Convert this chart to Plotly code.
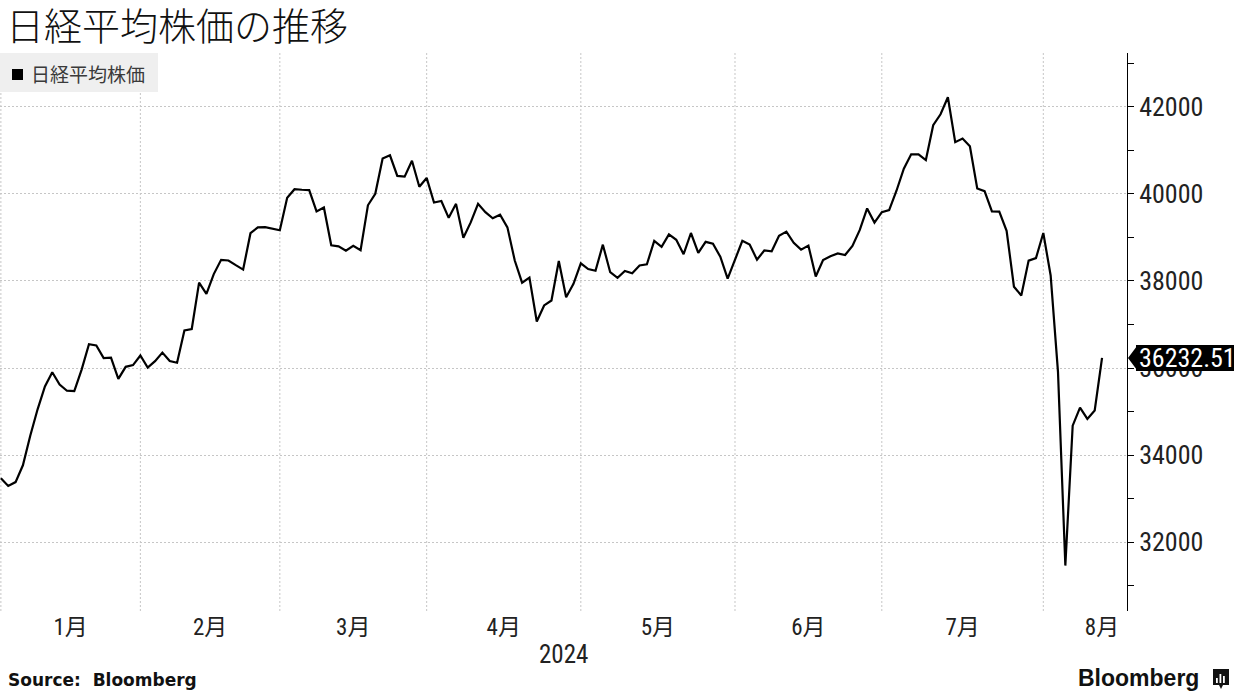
import plotly.graph_objects as go
import pandas as pd

# ---------------- data ----------------
dates = [
    "2023-12-29",
    "2024-01-04", "2024-01-05", "2024-01-09", "2024-01-10", "2024-01-11", "2024-01-12",
    "2024-01-15", "2024-01-16", "2024-01-17", "2024-01-18", "2024-01-19", "2024-01-22",
    "2024-01-23", "2024-01-24", "2024-01-25", "2024-01-26", "2024-01-29", "2024-01-30",
    "2024-01-31",
    "2024-02-01", "2024-02-02", "2024-02-05", "2024-02-06", "2024-02-07", "2024-02-08",
    "2024-02-09", "2024-02-13", "2024-02-14", "2024-02-15", "2024-02-16", "2024-02-19",
    "2024-02-20", "2024-02-21", "2024-02-22", "2024-02-26", "2024-02-27", "2024-02-28",
    "2024-02-29",
    "2024-03-01", "2024-03-04", "2024-03-05", "2024-03-06", "2024-03-07", "2024-03-08",
    "2024-03-11", "2024-03-12", "2024-03-13", "2024-03-14", "2024-03-15", "2024-03-18",
    "2024-03-19", "2024-03-21", "2024-03-22", "2024-03-25", "2024-03-26", "2024-03-27",
    "2024-03-28", "2024-03-29",
    "2024-04-01", "2024-04-02", "2024-04-03", "2024-04-04", "2024-04-05", "2024-04-08",
    "2024-04-09", "2024-04-10", "2024-04-11", "2024-04-12", "2024-04-15", "2024-04-16",
    "2024-04-17", "2024-04-18", "2024-04-19", "2024-04-22", "2024-04-23", "2024-04-24",
    "2024-04-25", "2024-04-26", "2024-04-30",
    "2024-05-01", "2024-05-02", "2024-05-07", "2024-05-08", "2024-05-09", "2024-05-10",
    "2024-05-13", "2024-05-14", "2024-05-15", "2024-05-16", "2024-05-17", "2024-05-20",
    "2024-05-21", "2024-05-22", "2024-05-23", "2024-05-24", "2024-05-27", "2024-05-28",
    "2024-05-29", "2024-05-30", "2024-05-31",
    "2024-06-03", "2024-06-04", "2024-06-05", "2024-06-06", "2024-06-07", "2024-06-10",
    "2024-06-11", "2024-06-12", "2024-06-13", "2024-06-14", "2024-06-17", "2024-06-18",
    "2024-06-19", "2024-06-20", "2024-06-21", "2024-06-24", "2024-06-25", "2024-06-26",
    "2024-06-27", "2024-06-28",
    "2024-07-01", "2024-07-02", "2024-07-03", "2024-07-04", "2024-07-05", "2024-07-08",
    "2024-07-09", "2024-07-10", "2024-07-11", "2024-07-12", "2024-07-16", "2024-07-17",
    "2024-07-18", "2024-07-19", "2024-07-22", "2024-07-23", "2024-07-24", "2024-07-25",
    "2024-07-26", "2024-07-29", "2024-07-30", "2024-07-31",
    "2024-08-01", "2024-08-02", "2024-08-05", "2024-08-06", "2024-08-07", "2024-08-08",
    "2024-08-09", "2024-08-13",
]

closes = [
    33464.17,
    33288.29, 33377.42, 33763.18, 34441.72, 35049.86, 35577.11,
    35901.79, 35619.18, 35477.75, 35466.17, 35963.27, 36546.95,
    36517.57, 36226.48, 36236.47, 35751.07, 36026.94, 36065.86,
    36286.71,
    36011.46, 36158.02, 36354.16, 36160.66, 36119.92, 36863.28,
    36897.42, 37963.97, 37703.32, 38157.94, 38487.24, 38470.38,
    38363.61, 38262.16, 39098.68, 39233.71, 39239.52, 39208.03,
    39166.19,
    39910.82, 40109.23, 40097.63, 40090.78, 39598.71, 39688.94,
    38820.49, 38797.51, 38695.97, 38807.38, 38707.64, 39740.44,
    40003.60, 40815.66, 40888.43, 40414.12, 40398.03, 40762.73,
    40168.07, 40369.44,
    39803.09, 39838.91, 39451.85, 39773.13, 38992.08, 39347.04,
    39773.14, 39581.81, 39442.63, 39523.55, 39232.80, 38471.20,
    37961.80, 38079.70, 37068.35, 37438.61, 37552.16, 38460.08,
    37628.48, 37934.76, 38405.66,
    38274.05, 38236.07, 38835.10, 38202.37, 38073.98, 38229.11,
    38179.46, 38356.06, 38385.73, 38920.26, 38787.38, 39069.68,
    38946.93, 38617.10, 39103.22, 38646.11, 38900.02, 38855.37,
    38556.87, 38054.13, 38487.90,
    38923.03, 38837.46, 38490.17, 38703.51, 38683.93, 39038.16,
    39134.79, 38876.71, 38720.47, 38814.56, 38102.44, 38482.11,
    38570.76, 38633.02, 38596.47, 38804.65, 39173.15, 39667.07,
    39341.54, 39583.08,
    39631.06, 40074.69, 40580.76, 40913.65, 40912.37, 40780.70,
    41580.17, 41831.99, 42224.02, 41190.68, 41275.08, 41097.69,
    40126.35, 40063.79, 39599.00, 39594.39, 39154.85, 37869.51,
    37667.41, 38468.63, 38525.95, 39101.82,
    38126.33, 35909.70, 31458.42, 34675.46, 35089.62, 34831.15,
    35025.00, 36232.51,
]

month_labels = ["1月", "2月", "3月", "4月", "5月", "6月", "7月", "8月"]
year_label = "2024"
series_name = "日経平均株価"
title_text = "日経平均株価の推移"
source_text = "Source:  Bloomberg"
brand_text = "Bloomberg"

# ---------------- derived positions (trading-day axis) ----------------
idx = list(range(len(dates)))
periods = pd.to_datetime(pd.Series(dates)).dt.to_period("M").tolist()
month_ends = [i for i in idx[:-1] if periods[i] != periods[i + 1]]  # last trading day of each month
label_pos = [(month_ends[k] + month_ends[k + 1]) / 2 for k in range(len(month_ends) - 1)] + [idx[-1]]

# ---------------- layout geometry ----------------
W, H = 1234, 694
PL, PR, PT, PB = 0, 1127, 53, 611     # plot area in pixels
X_RANGE = [-0.12, 153.4]
Y_RANGE = [30414, 43241]


def px(x):
    return (x - PL) / (PR - PL)


def py(y):
    return (PB - y) / (PB - PT)


def vy(v):
    return (v - Y_RANGE[0]) / (Y_RANGE[1] - Y_RANGE[0])


NARROW = "Liberation Sans Narrow, Arial Narrow, Roboto Condensed, Noto Sans CJK JP, sans-serif"
CJK = "Noto Sans CJK JP, sans-serif"
GRID = "#c6c6c6"
GRID_DASH = "2px,2px"

fig = go.Figure()
fig.add_trace(go.Scatter(
    x=idx, y=closes, mode="lines", name=series_name,
    line=dict(color="#000000", width=2.2),
    hoverinfo="skip", showlegend=False, cliponaxis=False,
))

shapes = []
# vertical dotted gridlines at month boundaries
for g in month_ends:
    shapes.append(dict(type="line", xref="x", yref="paper", x0=g, x1=g, y0=0, y1=1,
                       line=dict(color=GRID, width=1, dash=GRID_DASH), layer="below"))

# legend box
shapes.append(dict(type="rect", xref="paper", yref="paper",
                   x0=px(0), x1=px(158), y0=py(92), y1=py(53),
                   fillcolor="#efefef", line=dict(width=0), layer="below"))
shapes.append(dict(type="rect", xref="paper", yref="paper",
                   x0=px(12), x1=px(23), y0=py(80), y1=py(69),
                   fillcolor="#000000", line=dict(width=0)))

# last value pointer
last = closes[-1]
ly = vy(last)
hh = 12 / (PB - PT)
shapes.append(dict(type="path", xref="paper", yref="paper",
                   path=f"M {px(1128)} {ly} L {px(1137)} {ly + hh} L {px(1137)} {ly - hh} Z",
                   fillcolor="#000000", line=dict(width=0)))
shapes.append(dict(type="rect", xref="paper", yref="paper",
                   x0=px(1136), x1=px(1234), y0=ly - (13 / (PB - PT)), y1=ly + (13 / (PB - PT)),
                   fillcolor="#000000", line=dict(width=0)))

# Bloomberg icon
shapes.append(dict(type="path", xref="paper", yref="paper",
                   path=(f"M {px(1213)} {py(669)} L {px(1229)} {py(669)} L {px(1229)} {py(685)} "
                         f"L {px(1223)} {py(685)} L {px(1221)} {py(689)} L {px(1219)} {py(685)} "
                         f"L {px(1213)} {py(685)} Z"),
                   fillcolor="#111111", line=dict(width=0)))
for bx, top in [(1216, 678), (1219.5, 674), (1223, 676)]:
    shapes.append(dict(type="rect", xref="paper", yref="paper",
                       x0=px(bx), x1=px(bx + 1.8), y0=py(683), y1=py(top),
                       fillcolor="#ffffff", line=dict(width=0)))

annotations = [
    dict(text=series_name, xref="paper", yref="paper", x=px(29), y=py(74),
         xanchor="left", yanchor="middle", showarrow=False,
         font=dict(family=CJK, size=19, color="#3a3a3a")),
    dict(text=f"{last:.2f}", xref="paper", yref="paper", x=px(1137), y=ly,
         xanchor="left", yanchor="middle", showarrow=False,
         font=dict(family=NARROW, size=26, color="#ffffff")),
    dict(text=year_label, xref="paper", yref="paper", x=0.5, y=py(654),
         xanchor="center", yanchor="middle", showarrow=False,
         font=dict(family=NARROW, size=25, color="#222222")),
    dict(text=f"<b>{source_text}</b>", xref="paper", yref="paper", x=px(6), y=py(680),
         xanchor="left", yanchor="middle", showarrow=False,
         font=dict(family="DejaVu Sans, sans-serif", size=17, color="#111111")),
    dict(text=f"<b>{brand_text}</b>", xref="paper", yref="paper", x=px(1201), y=py(678),
         xanchor="right", yanchor="middle", showarrow=False,
         font=dict(family="Liberation Sans, Arial, sans-serif", size=23, color="#111111")),
]

fig.update_layout(
    width=W, height=H,
    margin=dict(l=PL, r=W - PR, t=PT, b=H - PB, pad=0),
    paper_bgcolor="#ffffff", plot_bgcolor="#ffffff",
    showlegend=False,
    title=dict(text=title_text, x=6 / W, xref="container", xanchor="left",
               y=1 - 27 / H, yref="container", yanchor="middle",
               font=dict(family=CJK, size=38, color="#111111", weight=300)),
    xaxis=dict(range=X_RANGE, tickvals=label_pos, ticktext=month_labels,
               showgrid=False, zeroline=False, showline=False, ticks="",
               tickfont=dict(family=NARROW, size=23, color="#222222")),
    yaxis=dict(range=Y_RANGE, side="right", dtick=2000, tick0=0, tickformat="d",
               showgrid=True, gridcolor=GRID, griddash=GRID_DASH, gridwidth=1,
               zeroline=False, showline=True, linecolor="#000000", linewidth=1,
               ticks="outside", ticklen=6, tickcolor="#000000", tickwidth=1,
               minor=dict(dtick=1000, tick0=0, ticks="outside", ticklen=6,
                          tickcolor="#000000", showgrid=False),
               tickfont=dict(family=NARROW, size=26, color="#222222")),
    shapes=shapes,
    annotations=annotations,
)

fig.write_html("out.html",
               config={"displayModeBar": False, "staticPlot": True},
               post_script="document.body.style.margin='0px';document.body.style.padding='0px';")
